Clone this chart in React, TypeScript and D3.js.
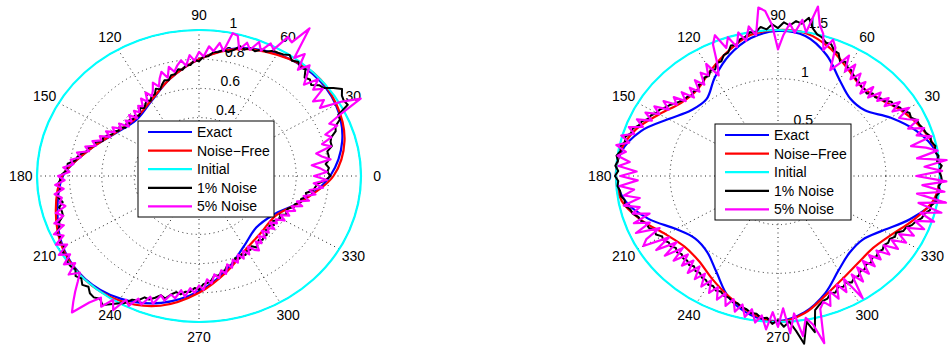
import React from "react";
import * as d3 from "d3";

// ---- data -------------------------------------------------------------
const ANGLE_TICKS = [0, 30, 60, 90, 120, 150, 180, 210, 240, 270, 300, 330];
const LEGEND_LABELS = ["Exact", "Noise\u2212Free", "Initial", "1% Noise", "5% Noise"];
const SERIES_COLORS = ["#0000ff", "#ff0000", "#00ffff", "#000000", "#ff00ff"];

// left panel: rings, labelled rings, radii (15 deg grid for smooth curves, 2 deg for noisy ones)
const LEFT_RINGS = [0.2, 0.4, 0.6, 0.8, 1];
const LEFT_RING_LABELS = [0.4, 0.6, 0.8, 1];
const LEFT_INITIAL = 1;
const LEFT_EXACT = [0.81, 0.915, 0.975, 0.99, 0.965, 0.905, 0.8, 0.69, 0.59, 0.545, 0.59, 0.7,
  0.84, 0.905, 0.97, 0.995, 0.97, 0.9, 0.79, 0.665, 0.555, 0.5, 0.53, 0.66];
const LEFT_NOISE_FREE = [0.83, 0.93, 0.98, 1.0, 0.96, 0.9, 0.8, 0.69, 0.595, 0.555, 0.595, 0.7,
  0.845, 0.915, 0.975, 1.0, 0.985, 0.92, 0.8, 0.675, 0.58, 0.545, 0.545, 0.66];
const LEFT_NOISE_1 = [
  0.812, 0.792, 0.804, 0.786, 0.810, 0.812, 0.810, 0.845, 0.845, 0.858, 0.898, 0.908, 0.952, 0.956, 1.040,
  1.032, 1.040, 1.065, 1.025, 0.978, 0.968, 0.932, 0.952, 0.938, 0.982, 0.972, 0.994, 0.976, 1.000, 0.982,
  0.975, 0.972, 0.947, 0.949, 0.921, 0.932, 0.910, 0.925, 0.890, 0.868, 0.878, 0.858, 0.852, 0.822, 0.819,
  0.786, 0.795, 0.762, 0.762, 0.735, 0.742, 0.713, 0.712, 0.682, 0.690, 0.667, 0.640, 0.655, 0.622, 0.624,
  0.596, 0.610, 0.592, 0.575, 0.590, 0.565, 0.555, 0.573, 0.563, 0.577, 0.562, 0.574, 0.561, 0.595, 0.585,
  0.610, 0.607, 0.632, 0.648, 0.641, 0.680, 0.675, 0.710, 0.710, 0.742, 0.762, 0.770, 0.815, 0.815, 0.828,
  0.858, 0.858, 0.877, 0.856, 0.885, 0.877, 0.860, 0.890, 0.880, 0.883, 0.918, 0.928, 0.962, 0.952, 0.974,
  0.961, 0.990, 0.977, 1.004, 1.005, 0.995, 1.025, 1.010, 1.037, 1.020, 1.048, 1.055, 1.040, 1.065, 1.035,
  1.008, 0.988, 0.942, 0.934, 0.896, 0.900, 0.877, 0.850, 0.865, 0.830, 0.808, 0.818, 0.797, 0.797, 0.767,
  0.779, 0.742, 0.735, 0.720, 0.686, 0.693, 0.672, 0.664, 0.635, 0.650, 0.620, 0.605, 0.618, 0.598, 0.612,
  0.593, 0.597, 0.581, 0.605, 0.585, 0.573, 0.588, 0.573, 0.582, 0.555, 0.562, 0.552, 0.572, 0.552, 0.570,
  0.580, 0.565, 0.600, 0.590, 0.593, 0.623, 0.623, 0.652, 0.650, 0.680, 0.670, 0.712, 0.722, 0.735, 0.782];
const LEFT_NOISE_5 = [
  0.71, 0.79, 0.75, 0.70, 0.82, 0.77, 0.74, 0.84, 0.79, 0.86, 0.83, 0.92, 0.88, 0.98, 1.13,
  1.02, 0.88, 0.93, 0.87, 0.97, 0.92, 0.99, 0.90, 0.96, 1.02, 0.95, 1.06, 1.00, 1.22, 1.08,
  1.10, 0.98, 1.01, 0.94, 0.99, 0.92, 0.96, 0.90, 0.99, 1.00, 0.87, 0.92, 0.86, 0.89, 0.82,
  0.85, 0.79, 0.83, 0.76, 0.80, 0.77, 0.73, 0.77, 0.70, 0.75, 0.71, 0.66, 0.70, 0.65, 0.62,
  0.66, 0.60, 0.64, 0.59, 0.61, 0.57, 0.60, 0.55, 0.60, 0.56, 0.59, 0.55, 0.61, 0.58, 0.63,
  0.60, 0.65, 0.61, 0.67, 0.65, 0.70, 0.67, 0.73, 0.70, 0.77, 0.74, 0.80, 0.78, 0.84, 0.80,
  0.87, 0.83, 0.89, 0.84, 0.90, 0.86, 0.88, 0.85, 0.92, 0.88, 0.95, 0.90, 0.98, 0.93, 1.00,
  0.94, 1.02, 0.96, 1.03, 0.97, 1.05, 0.99, 1.04, 1.10, 1.16, 1.22, 1.10, 1.03, 1.08, 1.00,
  1.06, 0.96, 0.99, 0.92, 0.95, 0.88, 0.92, 0.85, 0.88, 0.83, 0.85, 0.79, 0.83, 0.77, 0.80,
  0.75, 0.78, 0.71, 0.74, 0.68, 0.71, 0.66, 0.69, 0.63, 0.66, 0.61, 0.64, 0.59, 0.63, 0.58,
  0.62, 0.57, 0.61, 0.63, 0.57, 0.60, 0.55, 0.59, 0.54, 0.58, 0.55, 0.59, 0.54, 0.58, 0.56,
  0.61, 0.57, 0.62, 0.59, 0.64, 0.61, 0.67, 0.63, 0.70, 0.66, 0.73, 0.69, 0.77, 0.71, 0.79];

// right panel (10 deg grid for smooth curves, 2 deg for noisy ones)
const RIGHT_RINGS = [0.5, 1, 1.5];
const RIGHT_RING_LABELS = [0.5, 1, 1.5];
const RIGHT_INITIAL = 1.5;
const RIGHT_EXACT = [1.5, 1.48, 1.36, 1.2, 1.05, 1.04, 1.14, 1.32, 1.46, 1.49, 1.44, 1.32,
  1.17, 1.03, 1.05, 1.17, 1.35, 1.47, 1.5, 1.44, 1.28, 1.09, 1.0, 1.02, 1.14, 1.33, 1.45, 1.49,
  1.42, 1.28, 1.12, 1.03, 1.02, 1.12, 1.3, 1.47];
const RIGHT_NOISE_FREE = [1.5, 1.49, 1.42, 1.33, 1.23, 1.2, 1.28, 1.4, 1.49, 1.5, 1.47, 1.36,
  1.25, 1.16, 1.17, 1.27, 1.4, 1.48, 1.5, 1.47, 1.34, 1.2, 1.13, 1.14, 1.22, 1.32, 1.43, 1.5,
  1.43, 1.3, 1.21, 1.16, 1.15, 1.21, 1.33, 1.46];
const RIGHT_NOISE_1 = [
  1.51, 1.49, 1.52, 1.48, 1.50, 1.47, 1.49, 1.46, 1.47, 1.44, 1.43, 1.41, 1.41, 1.37, 1.38,
  1.34, 1.33, 1.29, 1.30, 1.25, 1.24, 1.21, 1.22, 1.18, 1.20, 1.20, 1.22, 1.23, 1.25, 1.28,
  1.29, 1.33, 1.31, 1.38, 1.39, 1.44, 1.44, 1.48, 1.50, 1.55, 1.65, 1.58, 1.60, 1.55, 1.58,
  1.52, 1.56, 1.51, 1.54, 1.49, 1.50, 1.46, 1.45, 1.40, 1.41, 1.35, 1.34, 1.29, 1.29, 1.24,
  1.25, 1.21, 1.22, 1.18, 1.19, 1.15, 1.17, 1.15, 1.17, 1.17, 1.19, 1.21, 1.24, 1.26, 1.29,
  1.30, 1.33, 1.34, 1.38, 1.39, 1.43, 1.43, 1.47, 1.46, 1.49, 1.48, 1.51, 1.49, 1.51, 1.48,
  1.51, 1.48, 1.49, 1.47, 1.47, 1.44, 1.45, 1.41, 1.40, 1.36, 1.35, 1.31, 1.31, 1.27, 1.28,
  1.24, 1.25, 1.22, 1.23, 1.20, 1.22, 1.20, 1.22, 1.21, 1.23, 1.21, 1.24, 1.23, 1.26, 1.26,
  1.29, 1.28, 1.31, 1.30, 1.33, 1.33, 1.36, 1.36, 1.39, 1.40, 1.43, 1.43, 1.47, 1.46, 1.52,
  1.48, 1.55, 1.50, 1.60, 1.74, 1.52, 1.64, 1.42, 1.38, 1.35, 1.34, 1.30, 1.31, 1.27, 1.29,
  1.26, 1.29, 1.26, 1.27, 1.24, 1.25, 1.22, 1.24, 1.21, 1.23, 1.21, 1.23, 1.21, 1.23, 1.22,
  1.25, 1.24, 1.29, 1.30, 1.34, 1.36, 1.40, 1.41, 1.45, 1.45, 1.49, 1.48, 1.51, 1.49, 1.52];
const RIGHT_NOISE_5 = [
  1.28, 1.52, 1.36, 1.57, 1.30, 1.50, 1.40, 1.27, 1.48, 1.35, 1.44, 1.30, 1.42, 1.33, 1.27,
  1.40, 1.25, 1.36, 1.22, 1.30, 1.20, 1.28, 1.16, 1.27, 1.14, 1.26, 1.18, 1.30, 1.20, 1.35,
  1.24, 1.40, 1.28, 1.19, 1.42, 1.49, 1.36, 1.52, 1.60, 1.78, 1.50, 1.62, 1.48, 1.57, 1.45,
  1.30, 1.55, 1.70, 1.74, 1.46, 1.56, 1.42, 1.52, 1.38, 1.50, 1.40, 1.56, 1.48, 1.28, 1.17,
  1.33, 1.22, 1.28, 1.16, 1.25, 1.13, 1.22, 1.12, 1.24, 1.15, 1.26, 1.19, 1.31, 1.22, 1.35,
  1.27, 1.39, 1.30, 1.43, 1.35, 1.47, 1.40, 1.51, 1.42, 1.53, 1.43, 1.50, 1.38, 1.48, 1.31,
  1.46, 1.30, 1.47, 1.34, 1.44, 1.30, 1.46, 1.32, 1.40, 1.25, 1.42, 1.28, 1.44, 1.22, 1.38,
  1.44, 1.19, 1.36, 1.16, 1.33, 1.15, 1.30, 1.16, 1.28, 1.17, 1.30, 1.18, 1.31, 1.21, 1.34,
  1.24, 1.36, 1.27, 1.39, 1.30, 1.42, 1.33, 1.45, 1.36, 1.48, 1.39, 1.52, 1.44, 1.58, 1.40,
  1.55, 1.36, 1.62, 1.42, 1.66, 1.48, 1.56, 1.77, 1.42, 1.36, 1.42, 1.28, 1.38, 1.24, 1.35,
  1.22, 1.48, 1.22, 1.34, 1.19, 1.31, 1.17, 1.29, 1.17, 1.28, 1.19, 1.31, 1.21, 1.34, 1.24,
  1.37, 1.27, 1.40, 1.31, 1.46, 1.35, 1.52, 1.37, 1.56, 1.33, 1.58, 1.30, 1.55, 1.34, 1.56];

// ---- layout -----------------------------------------------------------
const W = 952;
const H = 345;
const RX = 162;
const RY = 146;
const FONT = "'Liberation Sans', Arial, Helvetica, sans-serif";

type PanelProps = {
  cx: number;
  cy: number;
  rmax: number;
  rings: number[];
  ringLabels: number[];
  initial: number;
  exact: number[];
  noiseFree: number[];
  noise1: number[];
  noise5: number[];
  legendX: number;
  legendY: number;
};

function Panel(p: PanelProps) {
  const x = d3.scaleLinear().domain([-p.rmax, p.rmax]).range([p.cx - RX, p.cx + RX]);
  const y = d3.scaleLinear().domain([-p.rmax, p.rmax]).range([p.cy + RY, p.cy - RY]);
  const rad = (deg: number) => (deg * Math.PI) / 180;
  const pt = (r: number, deg: number): [number, number] => [
    x(r * Math.cos(rad(deg))),
    y(r * Math.sin(rad(deg))),
  ];
  const toPts = (vals: number[]) => vals.map((r, i) => pt(r, (i * 360) / vals.length));

  const smooth = d3.line().curve(d3.curveCatmullRomClosed.alpha(0.5));
  const jagged = d3.line().curve(d3.curveLinearClosed);

  const ex = x(p.rmax) - x(0);
  const ey = y(0) - y(p.rmax);
  const c82 = Math.cos(rad(82));
  const s82 = Math.sin(rad(82));

  const rowH = 18.6;
  const lw = 136;
  const lh = 96;

  return (
    <g>
      {/* dotted rings */}
      {p.rings
        .filter((r) => r < p.rmax)
        .map((r) => (
          <ellipse
            key={"ring" + r}
            cx={x(0)}
            cy={y(0)}
            rx={x(r) - x(0)}
            ry={y(0) - y(r)}
            fill="none"
            stroke="#222"
            strokeWidth={1}
            strokeDasharray="1,3.5"
          />
        ))}
      {/* dotted spokes */}
      {ANGLE_TICKS.filter((a) => a < 180).map((a) => {
        const [x1, y1] = pt(p.rmax, a);
        const [x2, y2] = pt(p.rmax, a + 180);
        return (
          <line
            key={"sp" + a}
            x1={x1}
            y1={y1}
            x2={x2}
            y2={y2}
            stroke="#222"
            strokeWidth={1}
            strokeDasharray="1,3.5"
          />
        );
      })}
      {/* outer ring */}
      <ellipse cx={x(0)} cy={y(0)} rx={ex} ry={ey} fill="none" stroke="#000" strokeWidth={1} />
      {/* angle labels (those that land past the right edge are not drawn) */}
      {ANGLE_TICKS.map((a) => {
        const [tx, ty] = pt(p.rmax * 1.1, a);
        if (tx + 4 > W) return null;
        return (
          <text
            key={"al" + a}
            x={tx}
            y={ty}
            textAnchor="middle"
            dominantBaseline="central"
            fontSize={14}
            fontFamily={FONT}
            fill="#000"
          >
            {a}
          </text>
        );
      })}
      {/* radial labels */}
      {p.ringLabels.map((r) => (
        <text
          key={"rl" + r}
          x={x(r * c82) + 8}
          y={y(r * s82) - 3}
          fontSize={14}
          fontFamily={FONT}
          fill="#000"
        >
          {String(r)}
        </text>
      ))}
      {/* curves */}
      <path d={smooth(toPts(p.exact)) || ""} fill="none" stroke={SERIES_COLORS[0]} strokeWidth={2.2} />
      <path d={smooth(toPts(p.noiseFree)) || ""} fill="none" stroke={SERIES_COLORS[1]} strokeWidth={2.2} />
      <ellipse
        cx={x(0)}
        cy={y(0)}
        rx={x(p.initial) - x(0)}
        ry={y(0) - y(p.initial)}
        fill="none"
        stroke={SERIES_COLORS[2]}
        strokeWidth={2.2}
      />
      <path
        d={jagged(toPts(p.noise1)) || ""}
        fill="none"
        stroke={SERIES_COLORS[3]}
        strokeWidth={2}
        strokeLinejoin="round"
      />
      <path
        d={jagged(toPts(p.noise5)) || ""}
        fill="none"
        stroke={SERIES_COLORS[4]}
        strokeWidth={2.2}
        strokeLinejoin="round"
      />
      {/* legend */}
      <g transform={`translate(${p.legendX},${p.legendY})`}>
        <rect x={0} y={0} width={lw} height={lh} fill="#fff" stroke="#000" strokeWidth={1} />
        {LEGEND_LABELS.map((lab, i) => {
          const ly = 11 + i * rowH;
          return (
            <g key={lab}>
              <line x1={10} x2={54} y1={ly} y2={ly} stroke={SERIES_COLORS[i]} strokeWidth={2.2} />
              <text
                x={59}
                y={ly}
                dominantBaseline="central"
                fontSize={14}
                fontFamily={FONT}
                fill="#000"
              >
                {lab}
              </text>
            </g>
          );
        })}
      </g>
    </g>
  );
}

export default function App() {
  return (
    <div style={{ position: "absolute", left: 0, top: 0, width: W, height: H, background: "#fff" }}>
      <svg width={W} height={H} viewBox={`0 0 ${W} ${H}`} style={{ display: "block", overflow: "hidden" }}>
        <rect x={0} y={0} width={W} height={H} fill="#fff" />
        <Panel
          cx={199}
          cy={176}
          rmax={1}
          rings={LEFT_RINGS}
          ringLabels={LEFT_RING_LABELS}
          initial={LEFT_INITIAL}
          exact={LEFT_EXACT}
          noiseFree={LEFT_NOISE_FREE}
          noise1={LEFT_NOISE_1}
          noise5={LEFT_NOISE_5}
          legendX={138}
          legendY={121}
        />
        <Panel
          cx={778}
          cy={176}
          rmax={1.5}
          rings={RIGHT_RINGS}
          ringLabels={RIGHT_RING_LABELS}
          initial={RIGHT_INITIAL}
          exact={RIGHT_EXACT}
          noiseFree={RIGHT_NOISE_FREE}
          noise1={RIGHT_NOISE_1}
          noise5={RIGHT_NOISE_5}
          legendX={715}
          legendY={124}
        />
      </svg>
    </div>
  );
}
